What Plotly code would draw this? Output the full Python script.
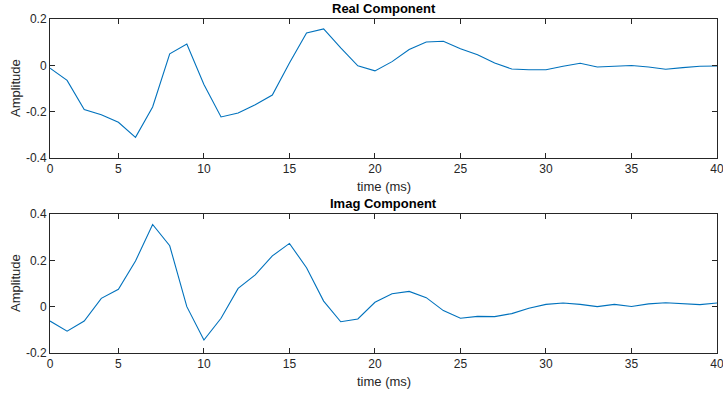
import plotly.graph_objects as go
from plotly.subplots import make_subplots

time_ms = list(range(1, 41))
real_vals = [-0.012, -0.065, -0.191, -0.213, -0.246, -0.311, -0.180, 0.050, 0.092, -0.083,
             -0.223, -0.206, -0.170, -0.128, 0.010, 0.140, 0.157, 0.075, -0.002, -0.024,
             0.016, 0.068, 0.101, 0.104, 0.072, 0.046, 0.010, -0.016, -0.019, -0.019,
             -0.004, 0.009, -0.007, -0.003, -0.001, -0.007, -0.017, -0.010, -0.004, -0.003]
imag_vals = [-0.062, -0.106, -0.062, 0.036, 0.075, 0.197, 0.355, 0.263, 0.000, -0.144,
             -0.050, 0.079, 0.137, 0.219, 0.273, 0.168, 0.024, -0.065, -0.053, 0.019,
             0.056, 0.066, 0.039, -0.017, -0.050, -0.042, -0.043, -0.030, -0.007, 0.010,
             0.016, 0.010, 0.000, 0.010, 0.001, 0.012, 0.017, 0.013, 0.009, 0.016]
x_tickvals = [1, 5, 10, 15, 20, 25, 30, 35, 40]
x_ticktext = ["0", "5", "10", "15", "20", "25", "30", "35", "40"]
real_yticks = [-0.4, -0.2, 0, 0.2]
real_yticktext = ["-0.4", "-0.2", "0", "0.2"]
imag_yticks = [-0.2, 0, 0.2, 0.4]
imag_yticktext = ["-0.2", "0", "0.2", "0.4"]
titles = ["Real Component", "Imag Component"]

LINE = "#0072BD"
AX = "#262626"
FONT = "Liberation Sans, Arial, Helvetica, sans-serif"

fig = make_subplots(rows=2, cols=1)
fig.add_trace(go.Scatter(x=time_ms, y=real_vals, mode="lines",
                         line=dict(color=LINE, width=1.1), showlegend=False), row=1, col=1)
fig.add_trace(go.Scatter(x=time_ms, y=imag_vals, mode="lines",
                         line=dict(color=LINE, width=1.1), showlegend=False), row=2, col=1)

H = 394
dom_top = [1 - 158 / H, 1 - 19 / H]
dom_bot = [1 - 353 / H, 1 - 214 / H]

common_x = dict(range=[1, 40], tickvals=x_tickvals, ticktext=x_ticktext,
                ticks="inside", ticklen=5, tickcolor=AX, tickwidth=1,
                showline=True, linecolor=AX, linewidth=1, mirror="ticks",
                showgrid=False, zeroline=False, automargin=False,
                ticklabeloverflow="allow",
                tickfont=dict(family=FONT, size=12, color=AX))
common_y = dict(ticks="inside", ticklen=5, tickcolor=AX, tickwidth=1,
                showline=True, linecolor=AX, linewidth=1, mirror="ticks",
                showgrid=False, zeroline=False, automargin=False,
                tickfont=dict(family=FONT, size=12, color=AX))

fig.update_layout(
    width=723, height=H,
    margin=dict(l=50, r=6, t=0, b=0, pad=0),
    paper_bgcolor="white", plot_bgcolor="white",
    font=dict(family=FONT, size=12, color=AX),
    xaxis=dict(**common_x, domain=[0, 1]),
    xaxis2=dict(**common_x, domain=[0, 1]),
    yaxis=dict(**common_y, domain=dom_top, range=[-0.4, 0.2],
               tickvals=real_yticks, ticktext=real_yticktext),
    yaxis2=dict(**common_y, domain=dom_bot, range=[-0.2, 0.4],
                tickvals=imag_yticks, ticktext=imag_yticktext),
)

ann = []
for t, dom in [(titles[0], dom_top), (titles[1], dom_bot)]:
    ann.append(dict(text="<b>%s</b>" % t, xref="paper", yref="paper", x=0.5, y=dom[1],
                    yshift=1, xanchor="center", yanchor="bottom", showarrow=False,
                    font=dict(family=FONT, size=13, color="black")))
    ann.append(dict(text="time (ms)", xref="paper", yref="paper", x=0.5, y=dom[0],
                    yshift=-19, xanchor="center", yanchor="top", showarrow=False,
                    font=dict(family=FONT, size=13, color=AX)))
    ann.append(dict(text="Amplitude", xref="paper", yref="paper", x=0, y=(dom[0] + dom[1]) / 2,
                    xshift=-25, xanchor="right", yanchor="middle", textangle=-90, showarrow=False,
                    font=dict(family=FONT, size=13, color=AX)))
fig.update_layout(annotations=ann)

fig.write_html("out.html")
